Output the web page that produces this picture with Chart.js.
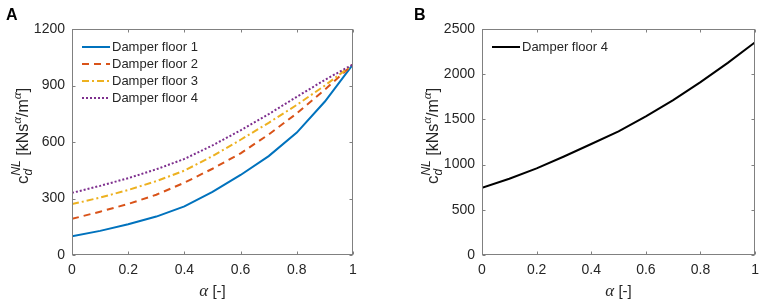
<!DOCTYPE html>
<html><head><meta charset="utf-8">
<script src="https://cdn.jsdelivr.net/npm/chart.js@4.4.0/dist/chart.umd.min.js"></script>
<style>
html,body{margin:0;padding:0;background:#fff;overflow:hidden;width:765px;height:303px;}
#wa{position:absolute;left:0;top:0;width:400px;height:303px;}
#wb{position:absolute;left:400px;top:0;width:366px;height:303px;}
</style></head><body>
<div id="wa"><canvas id="ca" width="400" height="303"></canvas></div>
<div id="wb"><canvas id="cb" width="366" height="303"></canvas></div>
<script>
// ---- data ----
const alphaValues = [0, 0.1, 0.2, 0.3, 0.4, 0.5, 0.6, 0.7, 0.8, 0.9, 1];
const damperFloor1 = [100, 128, 163, 204, 258, 335, 425, 525, 650, 815, 1012];
const damperFloor2 = [192, 230, 271, 320, 384, 458, 540, 640, 752, 878, 1012];
const damperFloor3 = [270, 305, 345, 392, 448, 525, 612, 702, 797, 900, 1012];
const damperFloor4 = [330, 367, 408, 455, 510, 582, 662, 748, 840, 930, 1012];
const damperFloor4B = [743, 843, 958, 1090, 1228, 1368, 1534, 1713, 1913, 2125, 2354];
const seriesNamesA = ['Damper floor 1', 'Damper floor 2', 'Damper floor 3', 'Damper floor 4'];
const seriesNameB = 'Damper floor 4';
const xTickValues = [0, 0.2, 0.4, 0.6, 0.8, 1];
const xTickLabels = ['0', '0.2', '0.4', '0.6', '0.8', '1'];
const yTickValuesA = [0, 300, 600, 900, 1200];
const yTickValuesB = [0, 500, 1000, 1500, 2000, 2500];

// ---- styling ----
const SANS = "'Liberation Sans', Arial, sans-serif";
const SERIF = "'Liberation Serif', 'Times New Roman', serif";
const TXT = '#262626';
const AX = '#808080';

function pts(ys) { return alphaValues.map((a, i) => ({ x: a, y: ys[i] })); }

function richRotY(ctx, baseX, centerY, segs) {
  ctx.save();
  ctx.translate(baseX, centerY);
  ctx.rotate(-Math.PI / 2);
  ctx.fillStyle = TXT;
  ctx.textBaseline = 'alphabetic';
  ctx.textAlign = 'left';
  let total = 0;
  const widths = segs.map(s => {
    const parts = Array.isArray(s) ? s : [s];
    let w = 0;
    parts.forEach(p => { ctx.font = p.f; w = Math.max(w, ctx.measureText(p.t).width); });
    total += w; return w;
  });
  let x = -total / 2;
  segs.forEach((s, i) => {
    const parts = Array.isArray(s) ? s : [s];
    parts.forEach(p => { ctx.font = p.f; ctx.fillText(p.t, x, p.dy || 0); });
    x += widths[i];
  });
  ctx.restore();
}

function richH(ctx, centerX, baseY, segs) {
  ctx.save();
  ctx.fillStyle = TXT; ctx.textBaseline = 'alphabetic'; ctx.textAlign = 'left';
  let total = 0;
  const w = segs.map(s => { ctx.font = s.f; const m = ctx.measureText(s.t).width; total += m; return m; });
  let x = centerX - total / 2;
  segs.forEach((s, i) => { ctx.font = s.f; ctx.fillText(s.t, x, baseY + (s.dy || 0)); x += w[i]; });
  ctx.restore();
}

const yTitleSegs = [
  { t: 'c', f: '17px ' + SANS },
  [{ t: 'NL', f: 'italic 12px ' + SANS, dy: -8 }, { t: 'd', f: 'italic 12px ' + SANS, dy: 4 }],
  { t: ' [kNs', f: '16px ' + SANS },
  { t: 'α', f: 'italic 13px ' + SERIF, dy: -7 },
  { t: '/m', f: '16px ' + SANS },
  { t: 'α', f: 'italic 13px ' + SERIF, dy: -7 },
  { t: ']', f: '16px ' + SANS }
];

function framePlugin(letter, legendItems, xTicks, yTicks) {
  return {
    id: 'frame' + letter,
    afterDraw(chart) {
      const ctx = chart.ctx, a = chart.chartArea;
      const xs = chart.scales.x, ys = chart.scales.y;
      ctx.save();
      ctx.strokeStyle = AX; ctx.lineWidth = 1; ctx.setLineDash([]);
      const L = Math.round(a.left) + 0.5, R = Math.round(a.right) - 0.5;
      const T = Math.round(a.top) + 0.5, B = Math.round(a.bottom) - 0.5;
      ctx.strokeRect(L, T, R - L, B - T);
      ctx.beginPath();
      xTicks.forEach(v => {
        const px = Math.round(xs.getPixelForValue(v)) + 0.5;
        ctx.moveTo(px, B); ctx.lineTo(px, B - 3);
        ctx.moveTo(px, T); ctx.lineTo(px, T + 3);
      });
      yTicks.forEach(v => {
        const py = Math.round(ys.getPixelForValue(v)) + 0.5;
        ctx.moveTo(L, py); ctx.lineTo(L + 3, py);
        ctx.moveTo(R, py); ctx.lineTo(R - 3, py);
      });
      ctx.stroke();
      // legend
      legendItems.forEach((it, i) => {
        const y = a.top + 18 + i * 17;
        ctx.strokeStyle = it.color; ctx.lineWidth = 2; ctx.setLineDash(it.dash);
        ctx.beginPath(); ctx.moveTo(a.left + 10, y); ctx.lineTo(a.left + 38, y); ctx.stroke();
        ctx.setLineDash([]);
        ctx.fillStyle = TXT; ctx.font = '13px ' + SANS; ctx.textBaseline = 'middle'; ctx.textAlign = 'left';
        ctx.fillText(it.label, a.left + 40, y);
      });
      // panel letter
      ctx.fillStyle = '#000'; ctx.font = 'bold 16px ' + SANS; ctx.textBaseline = 'alphabetic';
      ctx.fillText(letter, a.left - 66 + (letter === 'B' ? -2 : 0), 20);
      ctx.restore();
      // axis titles
      richRotY(ctx, a.left - 44, 136, yTitleSegs);
      richH(ctx, (a.left + a.right) / 2, 296, [
        { t: 'α', f: 'italic 17px ' + SERIF },
        { t: ' [-]', f: '15px ' + SANS }
      ]);
    }
  };
}

function makeOpts(yMax, yTicks, pad) {
  return {
    responsive: false, animation: false, devicePixelRatio: 1,
    layout: { padding: pad },
    plugins: { legend: { display: false }, tooltip: { enabled: false } },
    elements: { point: { radius: 0 }, line: { tension: 0, borderWidth: 2 } },
    scales: {
      x: {
        type: 'linear', min: 0, max: 1,
        afterBuildTicks: s => { s.ticks = xTickValues.map(v => ({ value: v })); },
        afterFit: s => { s.height = 48; },
        grid: { display: false, drawTicks: false }, border: { display: false },
        ticks: {
          color: TXT, font: { family: SANS, size: 14 }, padding: 7, maxRotation: 0, autoSkip: false,
          callback: (v, i) => xTickLabels[i]
        }
      },
      y: {
        type: 'linear', min: 0, max: yMax,
        afterBuildTicks: s => { s.ticks = yTicks.map(v => ({ value: v })); },
        afterFit: s => { s.width = 72; },
        grid: { display: false, drawTicks: false }, border: { display: false },
        ticks: { color: TXT, font: { family: SANS, size: 14 }, padding: 7, autoSkip: false, callback: v => String(v) }
      }
    }
  };
}

const colors = ['#0072BD', '#D95319', '#EDB120', '#7E2F8E'];
const dashes = [[], [7, 5], [7, 3, 2, 3], [2, 2]];
const seriesA = [damperFloor1, damperFloor2, damperFloor3, damperFloor4];

new Chart(document.getElementById('ca'), {
  type: 'line',
  data: {
    datasets: seriesA.map((s, i) => ({
      label: seriesNamesA[i], data: pts(s), borderColor: colors[i], borderDash: dashes[i],
      fill: false, order: 4 - i
    }))
  },
  options: makeOpts(1200, yTickValuesA, { left: 0, top: 29, right: 47, bottom: 0 }),
  plugins: [framePlugin('A', seriesNamesA.map((l, i) => ({ label: l, color: colors[i], dash: dashes[i] })), xTickValues, yTickValuesA)]
});

new Chart(document.getElementById('cb'), {
  type: 'line',
  data: {
    datasets: [{ label: seriesNameB, data: pts(damperFloor4B), borderColor: '#000000', fill: false }]
  },
  options: makeOpts(2500, yTickValuesB, { left: 10, top: 29, right: 4, bottom: 0 }),
  plugins: [framePlugin('B', [{ label: seriesNameB, color: '#000000', dash: [] }], xTickValues, yTickValuesB)]
});
</script>
</body></html>
